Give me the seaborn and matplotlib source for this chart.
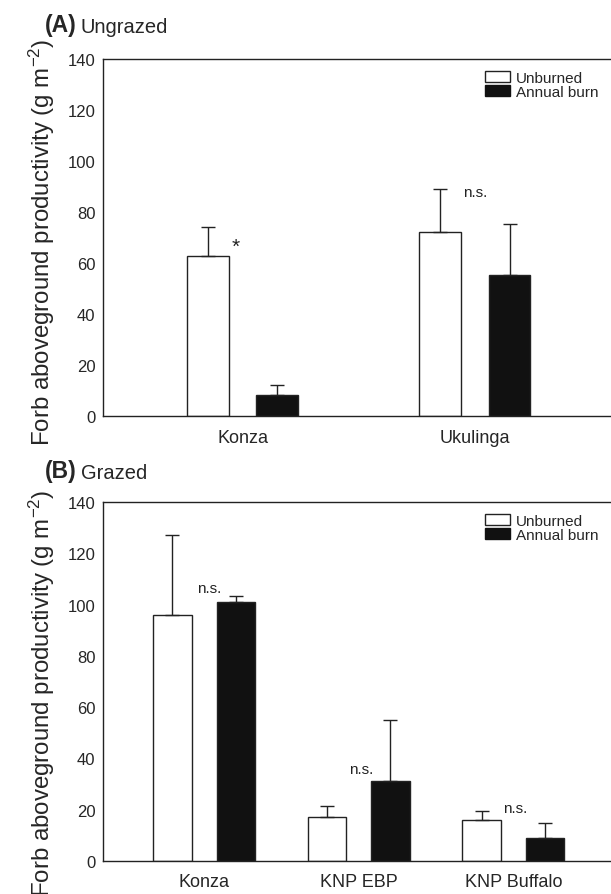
import matplotlib
matplotlib.use("Agg")
import matplotlib.pyplot as plt
import seaborn as sns
import pandas as pd
from matplotlib.patches import Patch

# Panel A - ungrazed sites
sites_a = ["Konza", "Ukulinga"]
unburned_a = [62.8, 72.0]
unburned_a_se = [11.4, 17.1]
burned_a = [8.4, 55.2]
burned_a_se = [3.8, 20.2]
sig_a = ["*", "n.s."]

# Panel B - grazed sites
sites_b = ["Konza", "KNP EBP", "KNP Buffalo"]
unburned_b = [95.8, 17.3, 15.9]
unburned_b_se = [31.5, 4.0, 3.5]
burned_b = [101.1, 31.1, 9.1]
burned_b_se = [2.2, 24.0, 5.6]
sig_b = ["n.s.", "n.s.", "n.s."]

treatments = ["Unburned", "Annual burn"]
yticks = [0, 20, 40, 60, 80, 100, 120, 140]

sns.set_theme(style="white")
plt.rcParams["font.family"] = ["Liberation Sans", "DejaVu Sans"]
plt.rcParams["mathtext.default"] = "regular"


def make_df(sites, unb, unb_se, brn, brn_se):
    return pd.DataFrame({
        "site": sites * 2,
        "treatment": [treatments[0]] * len(sites) + [treatments[1]] * len(sites),
        "value": unb + brn,
        "se": unb_se + brn_se,
    })


def draw_panel(ax, df, sites, width, gap, xlim, sig, sig_pos, label_y):
    sns.barplot(data=df, x="site", y="value", hue="treatment", order=sites,
                hue_order=treatments, palette=["white", "#111111"],
                edgecolor="#222222", linewidth=1, width=width, gap=gap,
                errorbar=None, legend=False, ax=ax)
    # upper-only standard error bars
    for cont, t in zip(ax.containers, treatments):
        sub = df[df.treatment == t].set_index("site").loc[sites]
        for bar, (_, row) in zip(cont.patches, sub.iterrows()):
            xc = bar.get_x() + bar.get_width() / 2
            ax.errorbar(xc, row.value, yerr=[[0], [row.se]], color="#222222",
                        elinewidth=1, capsize=5, capthick=1, zorder=1)
    for i, (s, (dx, y)) in enumerate(zip(sig, sig_pos)):
        fs = 15 if s == "*" else 11
        ax.text(i + dx, y, s, ha="center", va="center", fontsize=fs, color="#222222")

    ax.set_xlim(*xlim)
    ax.set_ylim(0, 140)
    ax.set_yticks(yticks)
    ax.set_xlabel("")
    ax.set_ylabel("Forb aboveground productivity (g m$^{-2}$)", fontsize=17.3)
    ax.yaxis.set_label_coords(-0.089, label_y)
    ax.tick_params(axis="y", length=0, pad=5.5, labelsize=12)
    ax.tick_params(axis="x", length=0, pad=9, labelsize=13)
    for side in ["left", "bottom", "top"]:
        ax.spines[side].set_color("#222222")
        ax.spines[side].set_linewidth(1)
    ax.spines["right"].set_visible(False)

    handles = [Patch(facecolor="white", edgecolor="#222222", linewidth=1),
               Patch(facecolor="#111111", edgecolor="#111111")]
    ax.legend(handles, treatments, loc="upper left", bbox_to_anchor=(0.742, 0.967),
              frameon=False, fontsize=11, borderpad=0, borderaxespad=0,
              handlelength=1.65, handleheight=0.72, handletextpad=0.4,
              labelspacing=0.0)


fig = plt.figure(figsize=(6.11, 8.95), dpi=100)
ax_a = fig.add_axes([0.1686, 0.534, 0.842, 0.399])
ax_b = fig.add_axes([0.1686, 0.037, 0.842, 0.401])

draw_panel(ax_a, make_df(sites_a, unburned_a, unburned_a_se, burned_a, burned_a_se),
           sites_a, 0.6, 0.4, (-0.601, 1.615), sig_a,
           [(-0.03, 66.7), (0.0, 87.7)], 0.49)
draw_panel(ax_b, make_df(sites_b, unburned_b, unburned_b_se, burned_b, burned_b_se),
           sites_b, 0.82, 0.39, (-0.654, 2.673), sig_b,
           [(0.03, 106.6), (0.016, 36.0), (0.013, 20.8)], 0.47)

for title, sub, ypix in [("(A)", "Ungrazed", 32), ("(B)", "Grazed", 478)]:
    t = fig.text(45 / 611, 1 - ypix / 895, title, fontsize=16.5, fontweight="bold",
                 va="baseline", ha="left")
    ax_a.annotate(sub, xy=(1, 0), xycoords=t, xytext=(3, 0),
                  textcoords="offset points", fontsize=14.5, va="bottom", ha="left",
                  annotation_clip=False)

fig.savefig("out.png", dpi=100)
